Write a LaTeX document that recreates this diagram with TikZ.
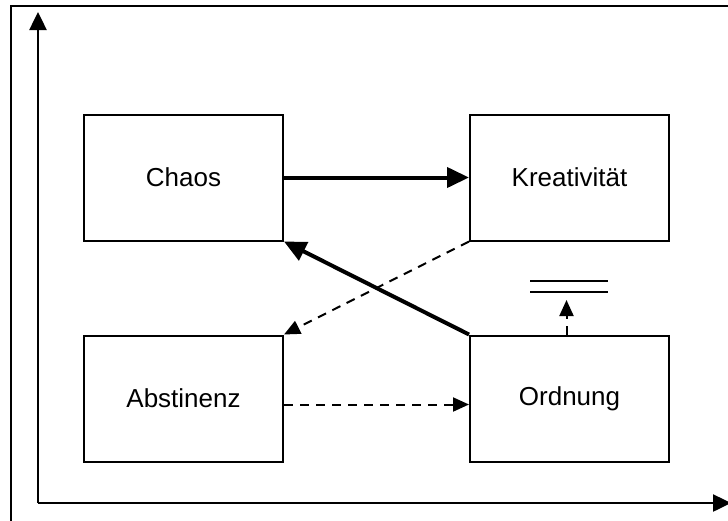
\documentclass[tikz,border=0pt]{standalone}
\usepackage{fontspec}
\setmainfont{Liberation Sans}
\usetikzlibrary{positioning,arrows.meta}
\tikzset{
  box/.style={draw, line width=2pt, minimum width=199pt, minimum height=126pt, inner sep=0pt, font=\fontsize{26}{30}\selectfont},
  strong/.style={line width=4pt, -{Triangle[length=22pt,width=20pt]}},
  weak/.style={line width=2pt, dash pattern=on 9pt off 7pt, -{Triangle[length=16pt,width=14pt]}}
}
\begin{document}
\begin{tikzpicture}[x=1pt, y=-1pt, node distance=93pt and 185pt]
    \useasboundingbox (0,0) rectangle (728,520);
    \draw[line width=2pt] (11,6) rectangle (800,600);

    \coordinate (origin) at (38,503);
    \coordinate (ytop) at (38,12);
    \coordinate (xend) at (731,503);
    \draw[line width=2.5pt, -{Triangle[length=18pt,width=17pt]}] (origin) -- (ytop);
    \draw[line width=2.5pt, -{Triangle[length=18pt,width=17pt]}] (origin) -- (xend);

    \node[box] (chaos) at (183.5,177.5) {Chaos};
    \node[box] (krea) [right=of chaos] {Kreativität};
    \node[box] (abst) [below=of chaos] {Abstinenz};
    \node[box] (ord) [right=of abst] {Ordnung};

    \draw[strong] (chaos) -- (krea);
    \draw[strong] (ord.north west) -- (chaos.south east);
    \draw[weak] (krea.south west) -- (abst.north east);
    \draw[weak] ([yshift=-6pt]abst.east) -- ([yshift=-6pt]ord.west);

    \coordinate (top) at ([xshift=-3pt]ord.north |- 0,300);
    \draw[weak] ([xshift=-3pt]ord.north) -- (top);
    \draw[line width=2pt] (530,281) -- (608,281);
    \draw[line width=2pt] (530,292) -- (608,292);
\end{tikzpicture}
\end{document}
